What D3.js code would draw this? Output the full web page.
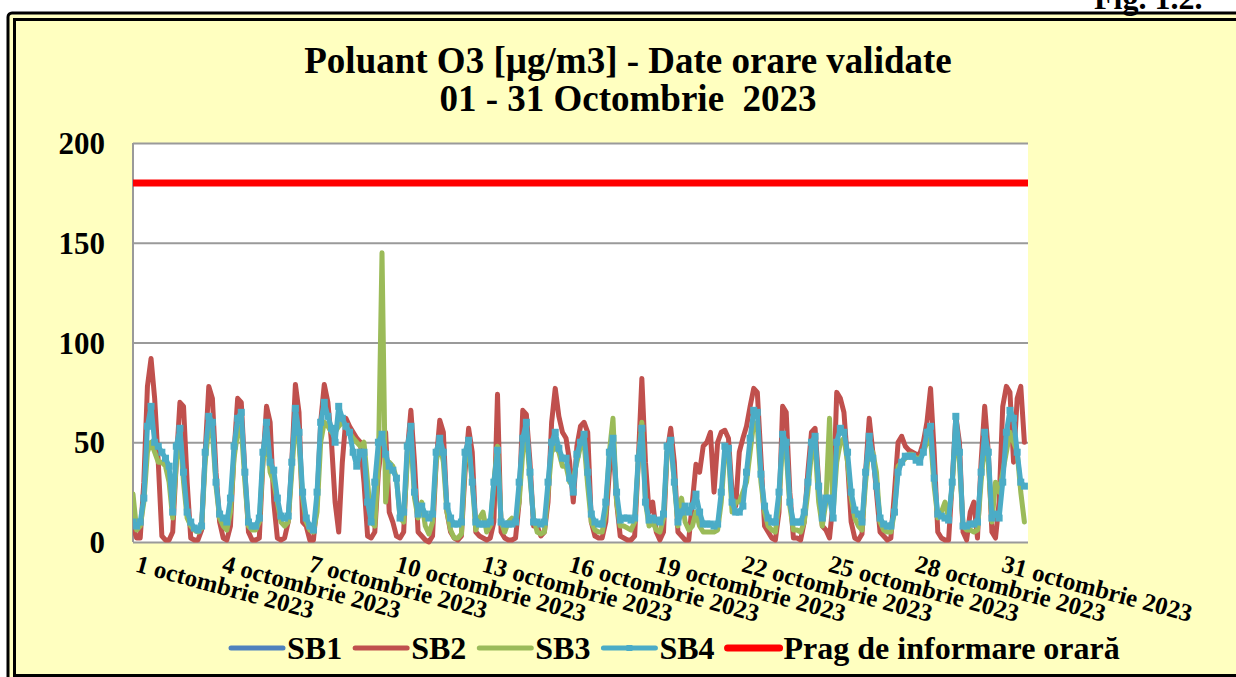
<!DOCTYPE html>
<html>
<head>
<meta charset="utf-8">
<script src="https://cdn.jsdelivr.net/npm/d3@7"></script>
<style>
body { margin: 0; background: #fff; }
svg { display: block; font-family: "Liberation Serif", "Times New Roman", serif; font-weight: bold; }
</style>
</head>
<body>
<div id="chart"></div>
<script>
//------------- data (one value every 3 hours) -------------
let seriesNames = ["SB1", "SB2", "SB3", "SB4"];
let seriesColors = ["#4F81BD", "#C0504D", "#9BBB59", "#4BACC6"];
let hoursOfDay = [0, 3, 6, 9, 12, 15, 18, 21];
let tickDays = [1, 4, 7, 10, 13, 16, 19, 22, 25, 28, 31];
let tickLabels = tickDays.map(d => d + " octombrie 2023");
let yTicks = [0, 50, 100, 150, 200];
let pragName = "Prag de informare orară";
let pragValue = 180;

let sb1 = []; // no data in the chart

let sb2 = [
    8, 2, 2, 30, 78, 92, 72, 40,
    3, 1, 1, 5, 40, 70, 68, 30,
    2, 1, 1, 6, 45, 78, 72, 35,
    10, 2, 1, 8, 45, 72, 70, 35,
    5, 1, 1, 2, 40, 68, 60, 20,
    2, 1, 2, 10, 40, 79, 65, 10,
    8, 1, 1, 20, 60, 79, 70, 50,
    20, 5, 40, 62, 58, 55, 52, 50,
    30, 3, 2, 5, 35, 50, 55, 15,
    10, 3, 2, 5, 45, 66, 40, 5,
    3, 1, 0, 3, 40, 61, 55, 15,
    5, 2, 1, 3, 35, 57, 45, 5,
    3, 2, 1, 2, 10, 74, 5, 2,
    1, 1, 2, 20, 66, 64, 40, 8,
    8, 3, 5, 20, 60, 77, 63, 55,
    52, 40, 20, 48, 58, 60, 55, 10,
    3, 2, 2, 10, 35, 52, 20, 3,
    2, 1, 1, 3, 40, 82, 40, 15,
    20, 5, 1, 5, 45, 57, 40, 5,
    3, 1, 1, 20, 39, 35, 48, 50,
    55, 25, 50, 55, 56, 52, 25, 18,
    45, 52, 58, 68, 77, 75, 42, 8,
    5, 2, 1, 15, 68, 65, 25, 2,
    2, 1, 10, 35, 55, 57, 30, 8,
    6, 2, 20, 75, 72, 65, 40, 10,
    2, 1, 4, 35, 62, 45, 25, 5,
    3, 1, 2, 25, 50, 53, 48, 46,
    45, 44, 44, 50, 60, 77, 45, 5,
    2, 1, 1, 30, 63, 50, 5, 1,
    15, 20, 2, 40, 68, 45, 5, 2,
    20, 68, 78, 75, 40, 72, 78, 50
];

let sb3 = [
    24, 6, 8, 20, 45, 50, 45, 40,
    40, 38, 30, 12, 40, 55, 30, 12,
    8, 6, 5, 7, 40, 58, 55, 28,
    12, 8, 6, 15, 42, 55, 58, 30,
    8, 6, 6, 10, 40, 55, 35, 30,
    20, 10, 8, 10, 35, 60, 50, 22,
    10, 6, 5, 15, 50, 60, 58, 55,
    55, 58, 60, 58, 55, 52, 50, 48,
    50, 30, 10, 8, 40, 145, 20, 40,
    38, 32, 12, 10, 40, 52, 22, 12,
    20, 8, 4, 10, 40, 50, 40, 15,
    6, 2, 2, 4, 40, 48, 30, 6,
    12, 15, 5, 8, 30, 48, 10, 5,
    10, 12, 10, 20, 45, 55, 32, 12,
    5, 4, 5, 25, 45, 48, 45, 38,
    38, 30, 32, 40, 48, 50, 28, 10,
    6, 5, 5, 15, 45, 62, 20, 8,
    8, 7, 6, 10, 40, 60, 20, 8,
    10, 6, 5, 12, 45, 50, 30, 8,
    22, 10, 6, 8, 15, 8, 5, 5,
    5, 5, 6, 20, 45, 45, 15, 20,
    20, 25, 30, 45, 60, 58, 30, 15,
    8, 6, 5, 20, 50, 45, 18, 6,
    6, 5, 10, 25, 45, 48, 20, 8,
    20, 62, 15, 40, 50, 52, 40, 22,
    12, 8, 6, 30, 48, 45, 35, 10,
    6, 5, 5, 15, 38, 40, 42, 44,
    44, 42, 42, 45, 50, 52, 28, 12,
    15, 20, 12, 28, 58, 40, 8, 6,
    6, 5, 6, 30, 50, 40, 10, 30,
    25, 35, 45, 55, 50, 45, 25, 10
];

let sb4 = [
    10, 8, 10, 22, 58, 68, 50, 48,
    45, 42, 38, 15, 48, 57, 35, 15,
    10, 7, 6, 8, 45, 63, 60, 30,
    14, 12, 10, 22, 48, 62, 65, 35,
    10, 8, 8, 12, 45, 60, 40, 36,
    22, 13, 12, 13, 40, 67, 55, 25,
    12, 8, 6, 25, 60, 70, 63, 57,
    50, 68, 62, 58, 55, 45, 38, 45,
    45, 20, 10, 30, 50, 54, 44, 38,
    36, 32, 12, 15, 48, 58, 25, 14,
    18, 14, 12, 14, 45, 52, 45, 18,
    12, 9, 9, 10, 45, 51, 30, 10,
    9, 9, 9, 10, 30, 46, 10, 9,
    9, 9, 10, 30, 52, 60, 35, 10,
    10, 9, 10, 30, 50, 55, 47, 42,
    42, 32, 25, 44, 50, 54, 35, 14,
    10, 9, 9, 20, 45, 52, 25, 11,
    12, 12, 11, 12, 42, 57, 20, 11,
    12, 11, 10, 14, 48, 51, 30, 10,
    15, 18, 15, 18, 24, 15, 9, 9,
    9, 8, 9, 25, 48, 47, 20, 15,
    15, 18, 35, 52, 66, 65, 34, 18,
    12, 10, 10, 25, 54, 50, 20, 10,
    10, 10, 15, 30, 50, 53, 28, 12,
    22, 22, 12, 50, 57, 55, 45, 25,
    16, 14, 10, 35, 53, 42, 28, 12,
    9, 8, 8, 15, 35, 40, 43, 43,
    43, 41, 40, 45, 55, 58, 32, 14,
    13, 12, 11, 30, 63, 45, 8, 8,
    9, 9, 10, 35, 55, 45, 12, 14,
    12, 30, 55, 66, 62, 45, 30, 28
];
//-----------------------------------------------------------------

let W = 1236, H = 677;
let plot = { left: 133, right: 1028, top: 143, bottom: 542 };
let yellow = "#FFFFC0";
let gridColor = "#9A9A9A";

// hour index of a value inside a series array
function hourIndex(i) {
    return Math.floor(i / hoursOfDay.length) * 24 + hoursOfDay[i % hoursOfDay.length];
}

let svg = d3.select("#chart")
    .append("svg")
    .attr("width", W)
    .attr("height", H);

// frame: double black border on yellow
svg.append("rect")
    .attr("x", 8).attr("y", 13)
    .attr("width", W + 20).attr("height", H + 20)
    .attr("rx", 4)
    .attr("fill", yellow)
    .attr("stroke", "#000")
    .attr("stroke-width", 3);
svg.append("rect")
    .attr("x", 14.5).attr("y", 19.5)
    .attr("width", W + 20).attr("height", 656)
    .attr("fill", yellow)
    .attr("stroke", "#000")
    .attr("stroke-width", 3);

svg.append("text")
    .attr("x", 1094).attr("y", 9)
    .style("font-size", "32px")
    .text("Fig. 1.2.");

// title
let title = svg.append("text")
    .attr("text-anchor", "middle")
    .style("font-size", "37px")
    .style("white-space", "pre");
title.append("tspan").attr("x", 628).attr("y", 73).text("Poluant O3 [µg/m3] - Date orare validate");
title.append("tspan").attr("x", 628).attr("y", 111).text("01 - 31 Octombrie  2023");

// plot area
svg.append("rect")
    .attr("x", plot.left).attr("y", plot.top)
    .attr("width", plot.right - plot.left).attr("height", plot.bottom - plot.top)
    .attr("fill", "#fff");

var x = d3.scaleLinear()
    .domain([0, 31 * 24])
    .range([plot.left, plot.right]);

var y = d3.scaleLinear()
    .domain([0, 200])
    .range([plot.bottom, plot.top]);

// horizontal grid lines
svg.append("g")
    .attr("class", "grid")
    .attr("transform", "translate(" + plot.left + ",0)")
    .call(d3.axisLeft(y).tickValues(yTicks).tickSize(-(plot.right - plot.left)).tickFormat(""))
    .call(g => g.select(".domain").remove())
    .call(g => g.selectAll("line").attr("stroke", gridColor).attr("stroke-width", 2));

// left border of the plot area
svg.append("line")
    .attr("x1", plot.left).attr("x2", plot.left)
    .attr("y1", plot.top).attr("y2", plot.bottom)
    .attr("stroke", gridColor).attr("stroke-width", 2);

// y axis labels
svg.append("g")
    .attr("transform", "translate(" + (plot.left - 28) + ",0)")
    .call(d3.axisLeft(y).tickValues(yTicks).tickSize(0).tickPadding(0))
    .call(g => g.select(".domain").remove())
    .call(g => g.selectAll("text")
        .attr("fill", "#000")
        .attr("dy", "0.34em")
        .style("font-size", "31px")
        .style("font-family", "Liberation Serif, serif")
        .style("font-weight", "bold"));

// x axis labels
svg.append("g")
    .attr("transform", "translate(0," + plot.bottom + ")")
    .call(d3.axisBottom(x)
        .tickValues(tickDays.map(d => (d - 1) * 24))
        .tickSize(0)
        .tickFormat((d, i) => tickLabels[i]))
    .call(g => g.select(".domain").remove())
    .call(g => g.selectAll("text")
        .attr("fill", "#000")
        .attr("x", 0).attr("y", 0)
        .attr("dy", "0.8em")
        .attr("text-anchor", "start")
        .attr("transform", "translate(6,10) rotate(15)")
        .style("font-size", "25px")
        .style("font-family", "Liberation Serif, serif")
        .style("font-weight", "bold"));

// series
let allSeries = [sb1, sb2, sb3, sb4];
let line = d3.line()
    .x((d, i) => x(hourIndex(i)))
    .y(d => y(d))
    .curve(d3.curveLinear);

svg.append("clipPath").attr("id", "plotclip")
    .append("rect")
    .attr("x", plot.left).attr("y", plot.top - 5)
    .attr("width", plot.right - plot.left).attr("height", plot.bottom - plot.top + 10);

let lines = svg.append("g").attr("clip-path", "url(#plotclip)");

allSeries.forEach((s, k) => {
    if (s.length == 0) return;
    lines.append("path")
        .datum(s)
        .attr("d", line)
        .attr("fill", "none")
        .attr("stroke", seriesColors[k])
        .attr("stroke-width", 5)
        .attr("stroke-linejoin", "round")
        .attr("stroke-linecap", "round");
});

// SB4 has small square markers
lines.append("g")
    .selectAll("rect")
    .data(sb4)
    .enter()
    .append("rect")
    .attr("x", (d, i) => x(hourIndex(i)) - 3.5)
    .attr("y", d => y(d) - 3.5)
    .attr("width", 7).attr("height", 7)
    .attr("fill", seriesColors[3]);

// information threshold
lines.append("line")
    .attr("x1", x(0)).attr("x2", x(31 * 24))
    .attr("y1", y(pragValue)).attr("y2", y(pragValue))
    .attr("stroke", "#FF0000")
    .attr("stroke-width", 7);

// legend
let legendItems = seriesNames.map((n, k) => ({ name: n, color: seriesColors[k], width: 5, marker: k == 3 }));
legendItems.push({ name: pragName, color: "#FF0000", width: 7, marker: false });

let legend = svg.append("g").attr("transform", "translate(0,648)");
let lx = 231;
legendItems.forEach(item => {
    legend.append("line")
        .attr("x1", lx).attr("x2", lx + 52)
        .attr("y1", 0).attr("y2", 0)
        .attr("stroke", item.color)
        .attr("stroke-width", item.width)
        .attr("stroke-linecap", "round");
    if (item.marker) {
        legend.append("rect")
            .attr("x", lx + 23).attr("y", -3)
            .attr("width", 6).attr("height", 6)
            .attr("fill", item.color);
    }
    let t = legend.append("text")
        .attr("x", lx + 56).attr("y", 11)
        .style("font-size", "32px")
        .text(item.name);
    lx = lx + 56 + t.node().getComputedTextLength() + 13;
});
</script>
</body>
</html>
